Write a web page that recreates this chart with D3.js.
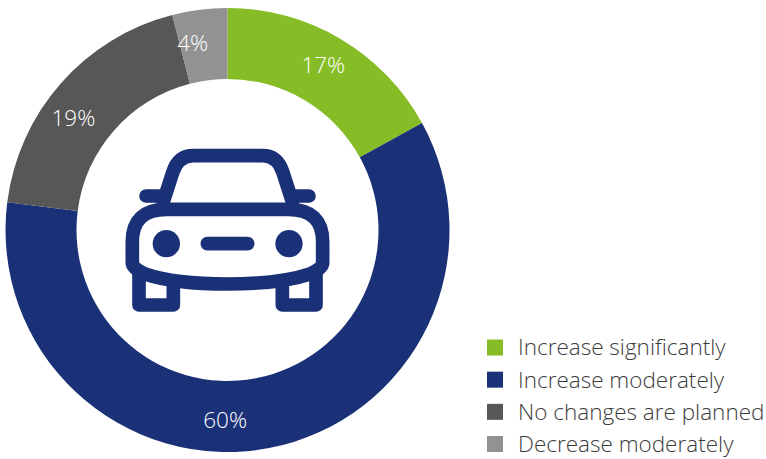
<!DOCTYPE html>
<html>
<head>
<meta charset="utf-8">
<script src="https://cdn.jsdelivr.net/npm/d3@7/dist/d3.min.js"></script>
<style>
  html, body { margin: 0; padding: 0; background: #fff; }
  svg { display: block; }
  text { font-family: "Open Sans", "Noto Sans", sans-serif; font-weight: 300; }
</style>
</head>
<body>
<svg id="chart" width="766" height="459"></svg>
<script>
const categories = ["Increase significantly", "Increase moderately", "No changes are planned", "Decrease moderately"];
const shares = [17, 60, 19, 4];
const palette = ["#86bc25", "#1a3178", "#575757", "#929292"];

const svg = d3.select("#chart");
const cx = 227.5, cy = 230, outerR = 222, innerR = 151;

const pie = d3.pie().sort(null).value(d => d)(shares);
const arc = d3.arc().innerRadius(innerR).outerRadius(outerR);

const ring = svg.append("g").attr("transform", `translate(${cx},${cy})`);
ring.selectAll("path")
  .data(pie)
  .join("path")
  .attr("d", arc)
  .attr("fill", (d, i) => palette[i]);

// Labels sit mid-band; the large segment's label is pulled to the bottom of the ring.
const labelBearing = [30.2, 180.7, 306, 349.5];
const labelR = 190.5;
ring.selectAll("text")
  .data(pie)
  .join("text")
  .attr("x", (d, i) => labelR * Math.sin(labelBearing[i] * Math.PI / 180))
  .attr("y", (d, i) => -labelR * Math.cos(labelBearing[i] * Math.PI / 180))
  .attr("dy", "0.35em")
  .attr("text-anchor", "middle")
  .attr("font-size", 22.5)
  .attr("fill", "#fff")
  .text(d => d.value + "%");

// Car pictogram in the hole of the ring
const iconInk = palette[1];
const car = svg.append("g")
  .attr("transform", "translate(110,130) scale(0.33333)")
  .attr("fill", "none")
  .attr("stroke", iconInk)
  .attr("stroke-width", 41)
  .attr("stroke-linecap", "round")
  .attr("stroke-linejoin", "round");
car.append("path").attr("d", "M160,215 L188,128 Q204,77 250,77 L458,77 Q503,77 519,128 L547,215");
car.append("path").attr("d", "M108,198 H158 M549,198 H597");
car.append("path").attr("d", "M67,398 V335 Q67,238 170,238 H535 Q638,238 638,335 V398 Q638,415 600,432 C540,452 450,462 352,462 C255,462 165,452 105,432 Q67,415 67,398 Z");
car.append("path").attr("d", "M87,430 V525 H190 V470 M517,470 V525 H618 V430");
car.append("path").attr("d", "M292,341 H413");
car.selectAll("circle")
  .data([169, 537])
  .join("circle")
  .attr("cx", d => d)
  .attr("cy", 341)
  .attr("r", 41)
  .attr("fill", iconInk)
  .attr("stroke", "none");

// Legend
const rowY = d3.scalePoint().domain(categories).range([347.5, 444]);
const legend = svg.append("g");
legend.selectAll("rect")
  .data(categories)
  .join("rect")
  .attr("x", 487)
  .attr("y", d => rowY(d) - 8)
  .attr("width", 16)
  .attr("height", 16)
  .attr("fill", (d, i) => palette[i]);
legend.selectAll("text")
  .data(categories)
  .join("text")
  .attr("x", 518)
  .attr("y", d => rowY(d))
  .attr("dy", "0.35em")
  .attr("font-size", 22.5)
  .attr("fill", "#3c3c3c")
  .text(d => d);
</script>
</body>
</html>
